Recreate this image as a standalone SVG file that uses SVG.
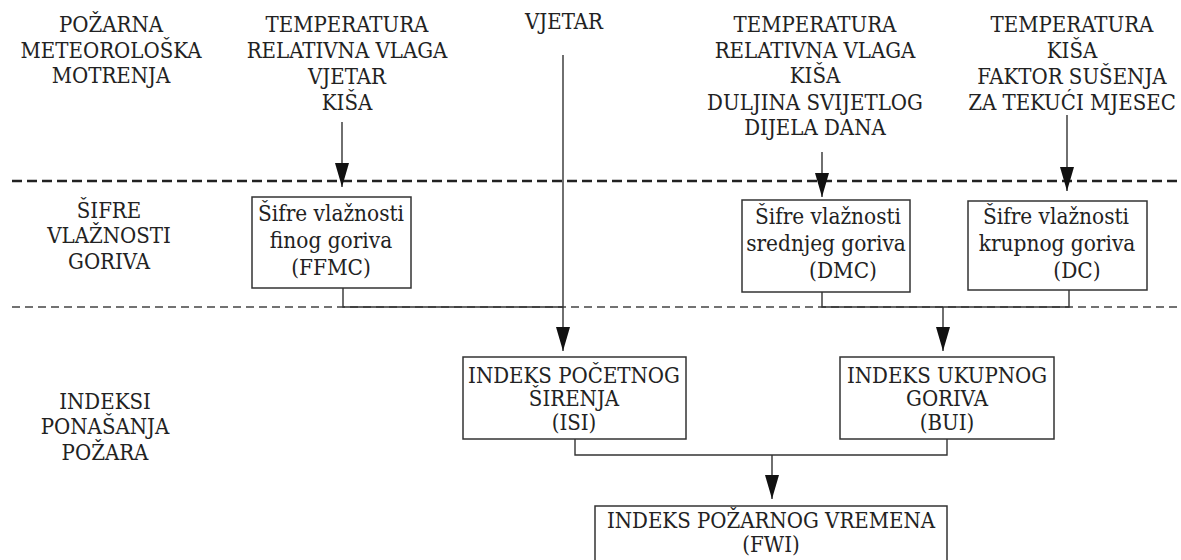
<svg xmlns="http://www.w3.org/2000/svg" width="1181" height="560" viewBox="0 0 1181 560">
<style>
text{font-family:'DejaVu Serif Condensed','DejaVu Serif',serif;font-stretch:condensed;fill:#222;text-anchor:middle}
.t{font-size:22px}
.b{font-size:22.4px}
.box{fill:#fff;stroke:#333;stroke-width:1.5}
.ln{fill:none;stroke:#333;stroke-width:1.4}
.d1{fill:none;stroke:#222;stroke-width:2.6;stroke-dasharray:10 5}
.d2{fill:none;stroke:#444;stroke-width:1.3;stroke-dasharray:8 5}
</style>
<defs>
<marker id="a" markerUnits="userSpaceOnUse" markerWidth="24" markerHeight="14" viewBox="0 0 24 14" refX="24" refY="7" orient="auto">
<path d="M0 0 L24 7 L0 14 Z" fill="#111"/>
</marker>
</defs>
<g id="bands">
<line class="d1" x1="12" y1="181" x2="1181" y2="181"/>
<line class="d2" x1="12" y1="307" x2="1181" y2="307"/>
</g>
<g id="lbl-motrenja" class="t">
<text x="111" y="32">POŽARNA</text>
<text x="111" y="58">METEOROLOŠKA</text>
<text x="111" y="83">MOTRENJA</text>
</g>
<g id="lbl-sifre" class="t">
<text x="109" y="218">ŠIFRE</text>
<text x="109" y="243">VLAŽNOSTI</text>
<text x="109" y="269">GORIVA</text>
</g>
<g id="lbl-indeksi" class="t">
<text x="105" y="409">INDEKSI</text>
<text x="105" y="434">PONAŠANJA</text>
<text x="105" y="460">POŽARA</text>
</g>
<g id="in-ffmc" class="t">
<text x="347" y="32">TEMPERATURA</text>
<text x="347" y="58">RELATIVNA VLAGA</text>
<text x="347" y="84">VJETAR</text>
<text x="347" y="110">KIŠA</text>
</g>
<g id="in-wind" class="t">
<text x="564" y="29">VJETAR</text>
</g>
<g id="in-dmc" class="t">
<text x="815" y="32">TEMPERATURA</text>
<text x="815" y="58">RELATIVNA VLAGA</text>
<text x="815" y="83">KIŠA</text>
<text x="815" y="110">DULJINA SVIJETLOG</text>
<text x="815" y="135">DIJELA DANA</text>
</g>
<g id="in-dc" class="t">
<text x="1072" y="32">TEMPERATURA</text>
<text x="1072" y="58">KIŠA</text>
<text x="1072" y="84">FAKTOR SUŠENJA</text>
<text x="1072" y="110">ZA TEKUĆI MJESEC</text>
</g>
<g id="ffmc">
<rect class="box" x="252" y="197" width="159" height="91"/>
<text class="b" x="331" y="221">Šifre vlažnosti</text>
<text class="b" x="331" y="248">finog goriva</text>
<text class="b" x="331" y="275">(FFMC)</text>
</g>
<g id="dmc">
<rect class="box" x="742" y="200" width="168" height="92"/>
<text class="b" x="828" y="224">Šifre vlažnosti</text>
<text class="b" x="826" y="251">srednjeg goriva</text>
<text class="b" x="843" y="278">(DMC)</text>
</g>
<g id="dc">
<rect class="box" x="968" y="201" width="179" height="89"/>
<text class="b" x="1056" y="224">Šifre vlažnosti</text>
<text class="b" x="1057" y="251">krupnog goriva</text>
<text class="b" x="1077" y="278">(DC)</text>
</g>
<g id="isi">
<rect class="box" x="463" y="357" width="223" height="82"/>
<text class="t" x="574" y="383">INDEKS POČETNOG</text>
<text class="t" x="574" y="406">ŠIRENJA</text>
<text class="t" x="574" y="430">(ISI)</text>
</g>
<g id="bui">
<rect class="box" x="840" y="357" width="214" height="82"/>
<text class="t" x="947" y="383">INDEKS UKUPNOG</text>
<text class="t" x="947" y="406">GORIVA</text>
<text class="t" x="947" y="430">(BUI)</text>
</g>
<g id="fwi">
<rect class="box" x="595" y="506" width="352" height="70"/>
<text class="t" x="771" y="528">INDEKS POŽARNOG VREMENA</text>
<text class="t" x="771" y="552">(FWI)</text>
</g>
<g id="connectors">
<line class="ln" x1="342" y1="122" x2="342" y2="187" marker-end="url(#a)"/>
<line class="ln" x1="563" y1="55" x2="563" y2="351" marker-end="url(#a)"/>
<line class="ln" x1="822" y1="152" x2="822" y2="197" marker-end="url(#a)"/>
<line class="ln" x1="1067" y1="115" x2="1067" y2="191" marker-end="url(#a)"/>
<polyline class="ln" points="343,288 343,307 563,307"/>
<polyline class="ln" points="822,292 822,307 1069,307 1069,290"/>
<line class="ln" x1="943" y1="307" x2="943" y2="351" marker-end="url(#a)"/>
<polyline class="ln" points="575,439 575,455 947,455 947,439"/>
<line class="ln" x1="772" y1="455" x2="772" y2="499" marker-end="url(#a)"/>
</g>
</svg>
